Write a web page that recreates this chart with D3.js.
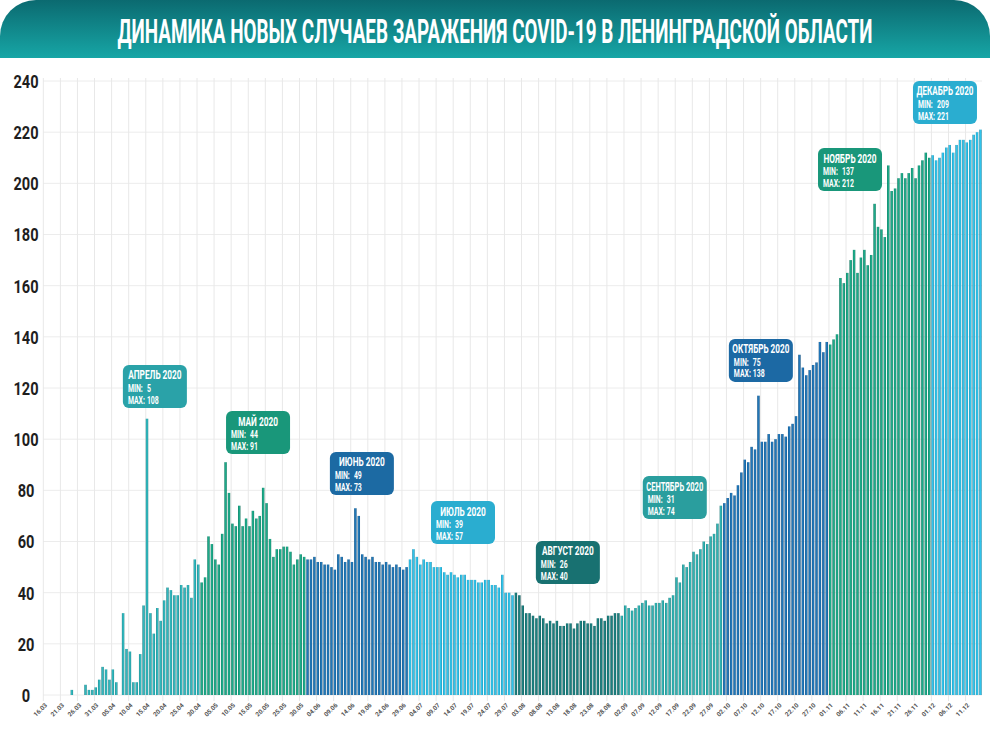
<!DOCTYPE html>
<meta charset="utf-8">
<style>
  body { margin: 0; background: #fff; }
  svg { display: block; font-family: Roboto, "DejaVu Sans", sans-serif; }
</style>
<body>
<div id="chart"></div>
<script src="https://d3js.org/d3.v7.min.js"></script>
<script>
const title = "ДИНАМИКА НОВЫХ СЛУЧАЕВ ЗАРАЖЕНИЯ COVID-19 В ЛЕНИНГРАДСКОЙ ОБЛАСТИ";
const startDate = new Date(2020, 2, 16); // 16.03.2020

// daily new cases, one array per month (16.03 .. 15.12), null = no data
const marchCases = [0, 0, 0, 0, 0, 0, 0, 0, 2, 0, 0, 0, 4, 2, 2, 3];
const aprilCases = [6, 11, 10, 6, 10, 5, null, 32, 18, 17, 5, 5, 16, 35, 108, 32, 24, 34, 29, 37,
  42, 41, 39, 39, 43, 42, 43, 38, 53, 51];
const mayCases = [44, 46, 62, 59, 53, 51, 63, 91, 79, 67, 66, 74, 66, 69, 66, 72, 69, 70, 81, 75,
  61, 54, 57, 57, 58, 58, 56, 51, 53, 55, 54];
const juneCases = [53, 53, 54, 52, 52, 51, 51, 50, 49, 55, 54, 52, 53, 52, 73, 70, 55, 54, 53, 54,
  52, 52, 51, 52, 51, 50, 51, 50, 49, 50];
const julyCases = [53, 57, 54, 51, 53, 52, 52, 50, 50, 50, 48, 47, 48, 47, 46, 47, 47, 45, 45, 45,
  44, 44, 45, 45, 43, 43, 42, 47, 40, 40, 39];
const augustCases = [40, 39, 35, 32, 32, 31, 30, 31, 30, 28, 29, 28, 29, 27, 27, 28, 28, 26, 28, 29,
  29, 28, 28, 27, 30, 30, 29, 31, 31, 32, 32];
const septemberCases = [31, 35, 34, 33, 34, 35, 36, 37, 35, 35, 36, 36, 37, 36, 38, 39, 46, 44, 51, 50,
  52, 56, 55, 57, 60, 59, 62, 63, 67, 74];
const octoberCases = [75, 77, 79, 78, 82, 87, 92, 91, 97, 96, 117, 99, 99, 102, 99, 100, 102, 102, 101, 105,
  106, 109, 133, 128, 125, 127, 129, 130, 138, 134, 138];
const novemberCases = [137, 139, 141, 163, 161, 165, 170, 174, 165, 171, 174, 168, 172, 192, 183, 182, 179, 207, 197, 198,
  202, 204, 202, 204, 206, 202, 207, 209, 212, 210];
const decemberCases = [211, 209, 210, 212, 214, 215, 212, 215, 217, 217, 216, 217, 219, 220, 221];

const monthCases = [marchCases, aprilCases, mayCases, juneCases, julyCases, augustCases,
  septemberCases, octoberCases, novemberCases, decemberCases];
const monthNames = ["МАРТ 2020", "АПРЕЛЬ 2020", "МАЙ 2020", "ИЮНЬ 2020", "ИЮЛЬ 2020", "АВГУСТ 2020",
  "СЕНТЯБРЬ 2020", "ОКТЯБРЬ 2020", "НОЯБРЬ 2020", "ДЕКАБРЬ 2020"];
const yTicks = [0, 20, 40, 60, 80, 100, 120, 140, 160, 180, 200, 220, 240];

// styles
const monthColors = ["#2aa2a8", "#2aa2a8", "#19977a", "#1c6aa3", "#2aadd0", "#187171",
  "#2a9e9e", "#1c69a4", "#19977a", "#2aadd0"];
// where each month box sits: [day index of left edge, value of top edge]; March has none
const boxAnchor = [null, [23.3, 129], [53.5, 111], [83.9, 95], [113.5, 75.8], [144.2, 60.2],
  [175.5, 85.6], [200.7, 139.2], [226.8, 213.8], [254.6, 240]];

const width = 990, height = 732;
const fmt = d3.timeFormat("%d.%m");
const tall = 1.45; // vertical stretch, stands in for a condensed face

const rows = [];
monthCases.forEach((arr, m) => arr.forEach(v => rows.push({ value: v, m })));
const days = d3.timeDay.range(startDate, d3.timeDay.offset(startDate, rows.length));
rows.forEach((r, i) => { r.label = fmt(days[i]); r.i = i; });

const x = d3.scaleBand()
  .domain(rows.map(d => d.label))
  .range([43.3, 981.7])
  .paddingInner(0.28)
  .paddingOuter(0)
  .align(0);
const y = d3.scaleLinear().domain([0, 240]).range([695, 81]);
const step = x.step();

const svg = d3.select("#chart").append("svg")
  .attr("width", width).attr("height", height)
  .attr("viewBox", [0, 0, width, height]);

const defs = svg.append("defs");
const hg = defs.append("linearGradient").attr("id", "head").attr("x1", 0).attr("x2", 0).attr("y1", 0).attr("y2", 1);
hg.append("stop").attr("offset", 0).attr("stop-color", "#0b6a70");
hg.append("stop").attr("offset", 1).attr("stop-color", "#17a6a6");

monthColors.forEach((c, m) => {
  const g = defs.append("linearGradient").attr("id", "bar" + m);
  const dark = d3.color(c).darker(0.7);
  const light = d3.color(c).brighter(0.35);
  [[0, dark], [0.35, light], [0.65, light], [1, dark]].forEach(([o, col]) =>
    g.append("stop").attr("offset", o).attr("stop-color", col));
});

// header banner
svg.append("path")
  .attr("d", "M0,58 L0,36 A36,36 0 0 1 36,0 L954,0 A36,36 0 0 1 990,36 L990,58 Z")
  .attr("fill", "url(#head)");
svg.append("text")
  .attr("transform", `translate(${width / 2},43) scale(1,1.7)`)
  .attr("text-anchor", "middle")
  .attr("fill", "#fff")
  .style("font-size", "19.5px").style("font-weight", 700)
  .attr("textLength", 755).attr("lengthAdjust", "spacingAndGlyphs")
  .text(title);

// grid
svg.append("g").selectAll("line")
  .data(yTicks)
  .join("line")
  .attr("x1", 43).attr("x2", 982)
  .attr("y1", d => y(d)).attr("y2", d => y(d))
  .attr("stroke", "#ececec");
const tickRows = rows.filter(d => d.i % 5 === 0);
svg.append("g").selectAll("line")
  .data(tickRows)
  .join("line")
  .attr("x1", d => x(d.label)).attr("x2", d => x(d.label))
  .attr("y1", 78).attr("y2", 701)
  .attr("stroke", "#e8e8e8");

// bars
svg.append("g").selectAll("rect")
  .data(rows.filter(d => d.value))
  .join("rect")
  .attr("x", d => x(d.label))
  .attr("width", x.bandwidth())
  .attr("y", d => y(d.value))
  .attr("height", d => y(0) - y(d.value))
  .attr("fill", d => `url(#bar${d.m})`);

// y axis
const yAxis = svg.append("g")
  .attr("transform", "translate(26,0)")
  .call(d3.axisLeft(y).tickValues(yTicks).tickSize(0).tickPadding(0));
yAxis.select(".domain").remove();
yAxis.selectAll(".tick text")
  .attr("x", 0).attr("y", 0).attr("dy", "0.36em")
  .attr("transform", `scale(1,${tall * 0.85})`)
  .attr("text-anchor", "middle")
  .attr("fill", "#1e1e1e")
  .style("font-size", (18 / (tall * 0.85)) + "px").style("font-weight", 700)
  .style("font-family", "Roboto, sans-serif");

// x axis
const xAxis = svg.append("g")
  .attr("transform", "translate(0,700)")
  .call(d3.axisBottom(x).tickValues(tickRows.map(d => d.label)).tickSize(0).tickPadding(0));
xAxis.select(".domain").remove();
xAxis.selectAll("text")
  .attr("text-anchor", "end")
  .attr("y", 0).attr("dy", "0.35em")
  .attr("transform", "translate(1.5,4) rotate(-45)")
  .attr("fill", "#555")
  .style("font-size", "6.3px").style("font-weight", 700)
  .style("font-family", "Roboto, sans-serif");

// month boxes
const boxes = monthCases.map((arr, m) => ({
  m, name: monthNames[m], min: d3.min(arr), max: d3.max(arr), at: boxAnchor[m]
})).filter(d => d.at);

const bw = 64, bh = 43;
const box = svg.append("g").selectAll("g")
  .data(boxes)
  .join("g")
  .attr("transform", d => `translate(${43.3 + d.at[0] * step},${y(d.at[1])})`);

box.append("rect")
  .attr("width", bw).attr("height", bh)
  .attr("rx", 6)
  .attr("fill", d => monthColors[d.m]);

// one text per box: title line plus MIN / MAX lines
const boxText = box.append("text")
  .attr("transform", `scale(1,${tall})`)
  .attr("fill", "#fff")
  .style("font-weight", 700);

boxText.append("tspan")
  .attr("y", 14.5 / tall)
  .style("font-size", (12 / tall) + "px")
  .text(d => d.name)
  .each(function() {
    const len = Math.min(this.getComputedTextLength(), 57);
    d3.select(this).attr("x", (bw - len) / 2)
      .attr("textLength", len).attr("lengthAdjust", "spacingAndGlyphs");
  });

[["MIN:", "min", 27], ["MAX:", "max", 38.6]].forEach(([lab, key, yy]) => {
  boxText.append("tspan")
    .attr("x", 5).attr("y", yy / tall)
    .style("font-size", (10 / tall) + "px")
    .text(lab);
  boxText.append("tspan")
    .attr("x", 24).attr("y", yy / tall)
    .style("font-size", (10 / tall) + "px")
    .text(d => d[key]);
});
</script>
